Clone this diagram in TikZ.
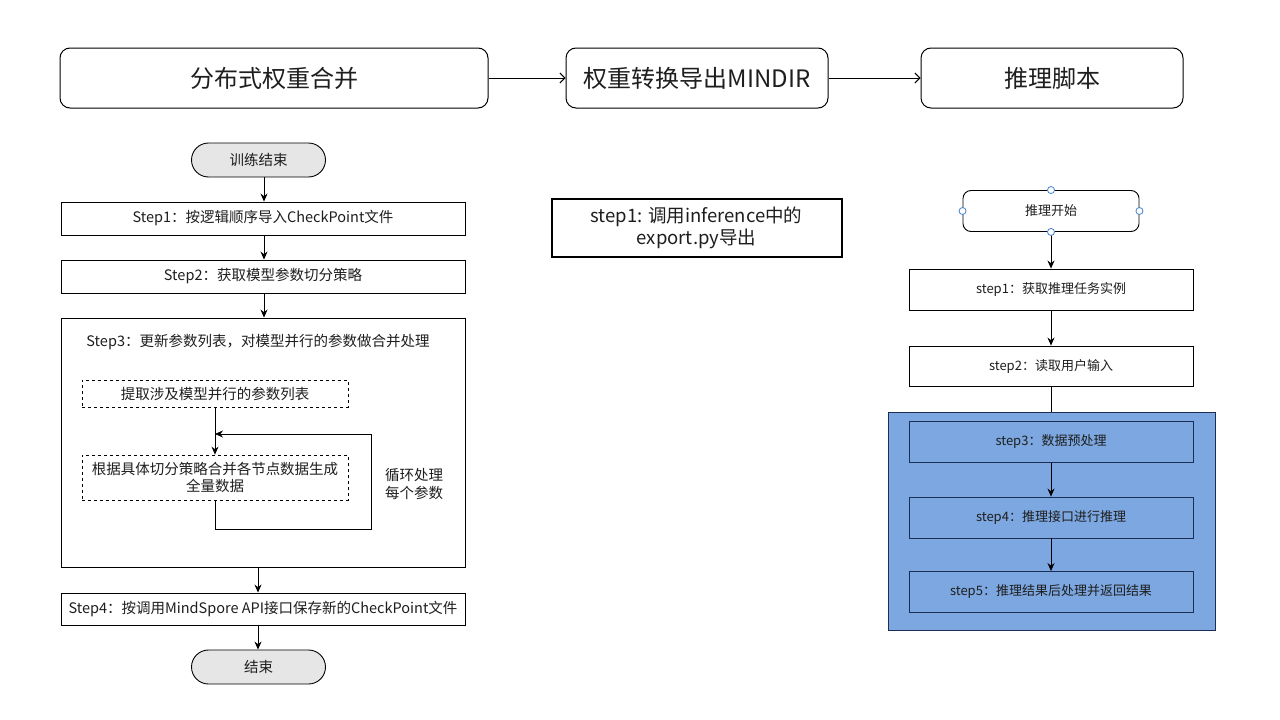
\documentclass[tikz,border=0pt]{standalone}
\usepackage{fontspec}
\setmainfont{Noto Sans CJK SC}
\usetikzlibrary{arrows.meta}
\definecolor{bluefill}{RGB}{124,167,224}
\definecolor{blueedge}{RGB}{28,46,84}
\definecolor{handleblue}{RGB}{70,130,205}
\definecolor{grayfill}{RGB}{230,230,230}
\definecolor{txt}{RGB}{30,30,30}
\begin{document}
\begin{tikzpicture}[x=1pt,y=-1pt,
  every node/.style={inner sep=0pt, align=center, text=txt},
  topbox/.style={draw, line width=1pt, rounded corners=10pt, minimum height=60pt, font=\fontsize{24}{28}\selectfont},
  lbox/.style={draw, line width=0.9pt, minimum width=404pt, font=\fontsize{14.5}{17}\selectfont},
  stadium/.style={draw, line width=0.9pt, fill=grayfill, rounded corners=17pt, minimum width=134pt, minimum height=34pt, font=\fontsize{14.5}{17}\selectfont},
  dbox/.style={draw, dashed, line width=0.8pt, minimum width=266pt, font=\fontsize{14.5}{17}\selectfont},
  rbox/.style={draw, line width=0.9pt, minimum width=284pt, minimum height=41pt, font=\fontsize{13}{16}\selectfont},
  bbox/.style={rbox, draw=blueedge, fill=bluefill},
  arr/.style={-{Stealth[length=8pt,width=7pt]}, line width=0.8pt},
  tarr/.style={-{Straight Barb[length=5pt,width=10pt]}, line width=0.9pt},
  hdl/.style={draw=handleblue, fill=white, line width=0.8pt}
]
\useasboundingbox (0,0) rectangle (1280,720);
\fill[white] (0,0) rectangle (1280,720);

% top row
\node[topbox, minimum width=428pt] (ta) at (274,78) {分布式权重合并};
\node[topbox, minimum width=262pt] (tb) at (697,78) {权重转换导出MINDIR};
\node[topbox, minimum width=262pt] (tc) at (1052,78) {推理脚本};
\draw[tarr] (ta.east) -- (tb.west);
\draw[tarr] (tb.east) -- (tc.west);

% left column
\node[stadium] (start) at (258.5,160) {训练结束};
\node[lbox, minimum height=33pt] (s1) at (263,218.5) {Step1：按逻辑顺序导入CheckPoint文件};
\node[lbox, minimum height=33pt] (s2) at (263,276.5) {Step2：获取模型参数切分策略};
\node[lbox, minimum height=249pt] (s3) at (263,442.5) {};
\node[font=\fontsize{14.5}{17}\selectfont] (s3t) at (258,342) {Step3：更新参数列表，对模型并行的参数做合并处理};
\node[dbox, minimum height=27pt] (d1) at (215,393.5) {提取涉及模型并行的参数列表};
\node[dbox, minimum height=45pt] (d2) at (215,477.5) {根据具体切分策略合并各节点数据生成\\全量数据};
\node[font=\fontsize{14.5}{18.7}\selectfont] (lbl) at (414,484) {循环处理\\每个参数};
\node[lbox, minimum height=32pt] (s4) at (263,609) {Step4：按调用MindSpore API接口保存新的CheckPoint文件};
\node[stadium] (stop) at (258.5,667) {结束};

\draw[arr] ([xshift=5.5pt]start.south) -- ([xshift=5.5pt]start.south |- s1.north);
\draw[arr] ([xshift=1pt]s1.south) -- ([xshift=1pt]s2.north);
\draw[arr] ([xshift=1pt]s2.south) -- ([xshift=1pt]s3.north);
\draw[arr] ([xshift=-5pt]s3.south) -- ([xshift=-5pt]s4.north);
\draw[arr] ([xshift=-5pt]s4.south) -- ([xshift=-5pt]s4.south |- stop.north);
\draw[arr] (d1.south) -- (d2.north);
\coordinate (lb) at (371.5,529);
\coordinate (lt) at (371.5,434);
\draw[arr] (d2.south) |- (lb) -- (lt) -- (lt -| d2.north);

% middle
\node[draw, line width=2pt, minimum width=290pt, minimum height=58pt, font=\fontsize{18.5}{22}\selectfont] (m1) at (696.5,227.5) {step1: 调用inference中的\\export.py导出};

% right column
\node[draw, line width=0.9pt, rounded corners=8pt, minimum width=176pt, minimum height=41pt, font=\fontsize{13}{16}\selectfont] (rs) at (1051,211) {推理开始};
\node[rbox] (r1) at (1051,289.5) {step1：获取推理任务实例};
\node[rbox, minimum height=40pt] (r2) at (1051,366) {step2：读取用户输入};
\node[draw=blueedge, fill=bluefill, line width=1pt, minimum width=327pt, minimum height=218pt] (cont) at (1052,521) {};
\node[bbox] (r3) at (1051,442) {step3：数据预处理};
\node[bbox] (r4) at (1051,517.5) {step4：推理接口进行推理};
\node[bbox] (r5) at (1051,592) {step5：推理结果后处理并返回结果};

\draw[arr] (rs.south) -- (r1.north);
\draw[arr] (r1.south) -- (r2.north);
\draw[line width=0.8pt] (r2.south) -- (r2.south |- cont.north);
\draw[arr] (r3.south) -- (r4.north);
\draw[arr] (r4.south) -- (r5.north);

\draw[hdl] (rs.north) circle (3.5pt);
\draw[hdl] (rs.south) circle (3.5pt);
\draw[hdl] (rs.west) circle (3.5pt);
\draw[hdl] (rs.east) circle (3.5pt);
\end{tikzpicture}
\end{document}
